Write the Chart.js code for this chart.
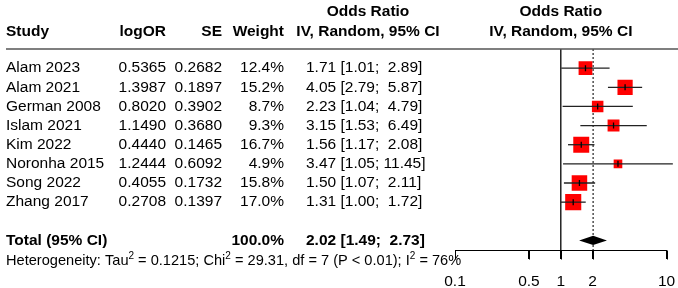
<!DOCTYPE html>
<html>
<head>
<meta charset="utf-8">
<script src="https://cdn.jsdelivr.net/npm/chart.js@4"></script>
<style>
  html, body { margin: 0; padding: 0; background: #fff; }
  canvas { display: block; }
</style>
</head>
<body>
<canvas id="forest" width="678" height="288"></canvas>
<script>
// study data
const studies = ['Alam 2023', 'Alam 2021', 'German 2008', 'Islam 2021', 'Kim 2022', 'Noronha 2015', 'Song 2022', 'Zhang 2017'];
const logOR = [0.5365, 1.3987, 0.8020, 1.1490, 0.4440, 1.2444, 0.4055, 0.2708];
const se = [0.2682, 0.1897, 0.3902, 0.3680, 0.1465, 0.6092, 0.1732, 0.1397];
const weight = [12.4, 15.2, 8.7, 9.3, 16.7, 4.9, 15.8, 17.0];
const orEst = [1.71, 4.05, 2.23, 3.15, 1.56, 3.47, 1.50, 1.31];
const ciLow = [1.01, 2.79, 1.04, 1.53, 1.17, 1.05, 1.07, 1.00];
const ciHigh = [2.89, 5.87, 4.79, 6.49, 2.08, 11.45, 2.11, 1.72];

// pooled result
const totalOR = 2.02;
const totalLow = 1.49;
const totalHigh = 2.73;
const totalWeight = 100.0;
const hetText = ['Heterogeneity: Tau', '2', ' = 0.1215; Chi', '2', ' = 29.31, df = 7 (P < 0.01); I', '2', ' = 76%'];

const tickValues = [0.1, 0.5, 1, 2, 10];
const tickLabels = ['0.1', '0.5', '1', '2', '10'];

const FONT = '"Liberation Sans", Arial, sans-serif';
const SIZE = 15.5;
const totalRow = studies.length + 1;

function ciText(est, lo, hi) {
  const h = hi.toFixed(2);
  return est.toFixed(2) + ' [' + lo.toFixed(2) + ';' + (h.length < 5 ? '  ' : ' ') + h + ']';
}

// CI whiskers, one line each
const ciSets = studies.map((s, i) => ({
  data: [{x: ciLow[i], y: i}, {x: ciHigh[i], y: i}],
  showLine: true,
  borderColor: '#222',
  borderWidth: 1.3,
  pointRadius: 0,
  clip: false,
  order: 1
}));

// pooled diamond, drawn on the scales
const diamondPlugin = {
  id: 'diamond',
  afterDatasetsDraw(chart) {
    const ctx = chart.ctx;
    const x = chart.scales.x;
    const y = chart.scales.y;
    const yc = y.getPixelForValue(totalRow);
    const h = y.getPixelForValue(totalRow + 0.24) - yc;
    ctx.save();
    ctx.fillStyle = '#000';
    ctx.beginPath();
    ctx.moveTo(x.getPixelForValue(totalLow), yc);
    ctx.lineTo(x.getPixelForValue(totalOR), yc - h);
    ctx.lineTo(x.getPixelForValue(totalHigh), yc);
    ctx.lineTo(x.getPixelForValue(totalOR), yc + h);
    ctx.closePath();
    ctx.fill();
    ctx.restore();
  }
};

const textPlugin = {
  id: 'forestText',
  afterDraw(chart) {
    const ctx = chart.ctx;
    const y = chart.scales.y;
    const x = chart.scales.x;
    ctx.save();
    ctx.fillStyle = '#000';
    ctx.textBaseline = 'middle';

    function txt(s, px, py, align, bold) {
      ctx.font = (bold ? 'bold ' : '') + SIZE + 'px ' + FONT;
      ctx.textAlign = align;
      ctx.fillText(s, px, py);
    }

    // header line
    const hy = y.getPixelForValue(-1);
    ctx.strokeStyle = '#555';
    ctx.lineWidth = 1.6;
    ctx.beginPath();
    ctx.moveTo(6, hy);
    ctx.lineTo(678, hy);
    ctx.stroke();

    // x axis line and ticks
    const ay = Math.round(y.getPixelForValue(9.5)) + 0.5;
    ctx.strokeStyle = '#000';
    ctx.lineWidth = 1;
    ctx.setLineDash([]);
    ctx.beginPath();
    ctx.moveTo(x.getPixelForValue(tickValues[0]), ay);
    ctx.lineTo(x.getPixelForValue(tickValues[tickValues.length - 1]), ay);
    ctx.stroke();
    tickValues.forEach(v => {
      const tx = Math.round(x.getPixelForValue(v)) + 0.5;
      ctx.beginPath();
      ctx.moveTo(tx, ay);
      ctx.lineTo(tx, ay + 9);
      ctx.stroke();
    });

    // headers
    txt('Study', 6, 32, 'left', true);
    txt('logOR', 166, 32, 'right', true);
    txt('SE', 222, 32, 'right', true);
    txt('Weight', 284, 32, 'right', true);
    txt('Odds Ratio', 368, 12, 'center', true);
    txt('IV, Random, 95% CI', 368, 32, 'center', true);
    const cx = x.getPixelForValue(1);
    txt('Odds Ratio', cx, 12, 'center', true);
    txt('IV, Random, 95% CI', cx, 32, 'center', true);

    // rows
    studies.forEach((s, i) => {
      const py = y.getPixelForValue(i);
      txt(s, 6, py, 'left');
      txt(logOR[i].toFixed(4), 166, py, 'right');
      txt(se[i].toFixed(4), 222, py, 'right');
      txt(weight[i].toFixed(1) + '%', 284, py, 'right');
      txt(ciText(orEst[i], ciLow[i], ciHigh[i]), 306, py, 'left');
    });

    // total
    const ty = y.getPixelForValue(totalRow);
    txt('Total (95% CI)', 6, ty, 'left', true);
    txt(totalWeight.toFixed(1) + '%', 284, ty, 'right', true);
    txt(ciText(totalOR, totalLow, totalHigh), 306, ty, 'left', true);

    // heterogeneity with superscripts
    let px = 6;
    const py = ty + 21;
    ctx.textAlign = 'left';
    hetText.forEach((part, k) => {
      const sup = k % 2 === 1;
      ctx.font = (sup ? 10 : 14.6) + 'px ' + FONT;
      ctx.fillText(part, px, sup ? py - 5 : py);
      px += ctx.measureText(part).width;
    });
    ctx.restore();
  }
};

new Chart(document.getElementById('forest'), {
  type: 'scatter',
  data: {
    datasets: [
      ...ciSets,
      {
        // weight squares
        data: orEst.map((v, i) => ({x: v, y: i})),
        pointStyle: 'rect',
        pointRadius: weight.map(w => 2.76 * Math.sqrt(w)),
        backgroundColor: '#ff0000',
        borderWidth: 0,
        order: 2
      },
      {
        // estimate marks
        data: orEst.map((v, i) => ({x: v, y: i})),
        pointStyle: 'line',
        rotation: 90,
        pointRadius: 3,
        borderColor: '#000',
        borderWidth: 1.3,
        order: 0
      },
      {
        // line of no effect
        data: [{x: 1, y: -1}, {x: 1, y: 9.5}],
        showLine: true,
        borderColor: '#000',
        borderWidth: 1.3,
        pointRadius: 0,
        order: 3
      },
      {
        // pooled estimate
        data: [{x: totalOR, y: -1}, {x: totalOR, y: 9.5}],
        showLine: true,
        borderColor: '#333',
        borderWidth: 1.3,
        borderDash: [2, 2],
        pointRadius: 0,
        order: 3
      }
    ]
  },
  options: {
    responsive: false,
    devicePixelRatio: 1,
    animation: false,
    events: [],
    layout: { padding: { left: 455, right: 8, top: 49, bottom: 0 } },
    plugins: { legend: { display: false }, tooltip: { enabled: false } },
    scales: {
      x: {
        type: 'logarithmic',
        min: 0.1,
        max: 10,
        afterBuildTicks: s => { s.ticks = tickValues.map(v => ({value: v})); },
        afterFit: s => { s.height = 38; s.paddingLeft = 0; s.paddingRight = 0; },
        ticks: {
          autoSkip: false,
          maxRotation: 0,
          color: '#000',
          padding: 13,
          font: { size: SIZE },
          callback: (v, i) => tickLabels[i]
        },
        grid: { drawOnChartArea: false, drawTicks: true, tickLength: 9, color: '#000', lineWidth: 1 },
        border: { color: '#000', width: 1 }
      },
      y: {
        type: 'linear',
        min: -1,
        max: 9.5,
        reverse: true,
        display: false
      }
    }
  },
  plugins: [diamondPlugin, textPlugin]
});
</script>
</body>
</html>
